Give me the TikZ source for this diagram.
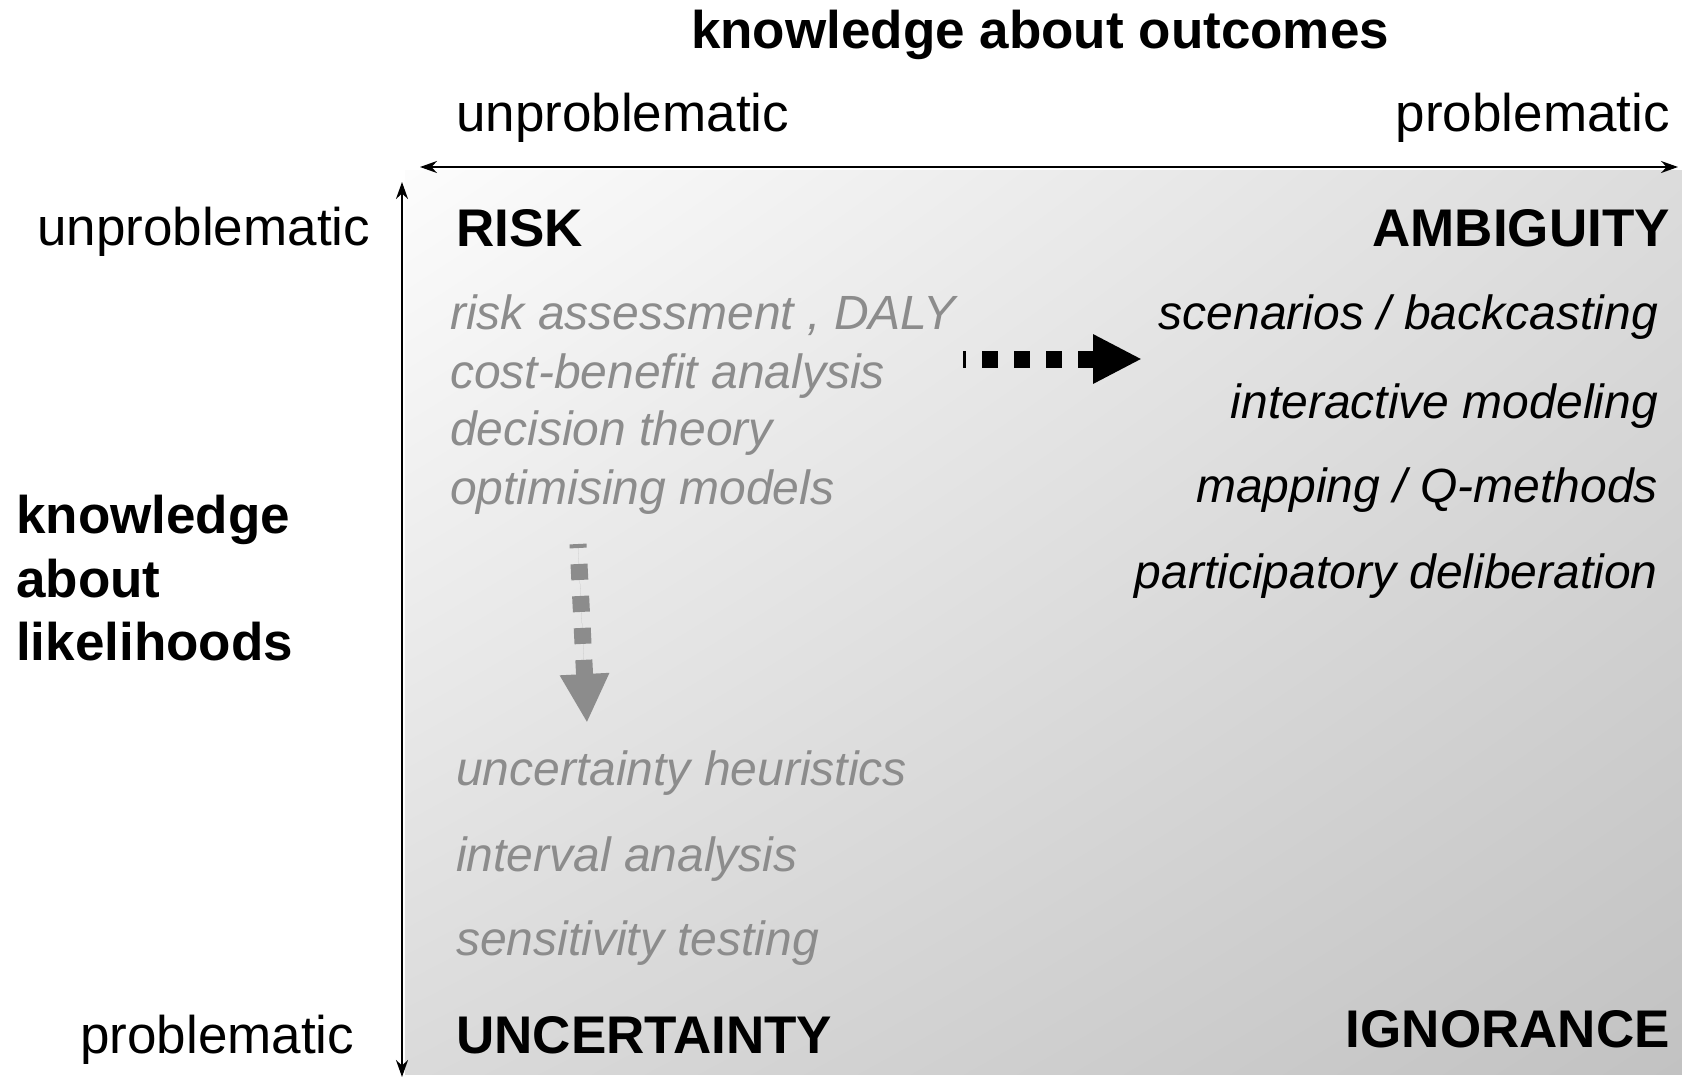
\documentclass[tikz,border=0pt]{standalone}
\usepackage{fontspec}
\setmainfont{Liberation Sans}
\usetikzlibrary{arrows.meta,shadings}
\definecolor{txtgray}{HTML}{8C8C8C}
\definecolor{bgUR}{HTML}{DCDCDC}
\definecolor{bgLL}{HTML}{DADADA}
\definecolor{bgLR}{HTML}{C2C2C2}
\definecolor{bgUL}{HTML}{FCFCFC}
\tikzset{
  big/.style={inner sep=0pt, font=\fontsize{53}{60}\selectfont},
  bigb/.style={inner sep=0pt, font=\fontsize{53}{60}\selectfont\bfseries},
  lst/.style={inner sep=0pt, font=\fontsize{48}{56}\selectfont\itshape},
  lstg/.style={lst, text=txtgray},
  axis/.style={line width=2pt, {Stealth[length=17pt,width=12pt]}-{Stealth[length=17pt,width=12pt]}},
  dotarrow/.style={line width=17pt, dash pattern=on 16pt off 16pt, -{Triangle[length=49pt,width=46pt]}},
}
\begin{document}
\begin{tikzpicture}[x=1pt,y=-1pt]
\useasboundingbox (0,0) rectangle (1682,1077);
\shade[upper left=bgUL, upper right=bgUR, lower left=bgLL, lower right=bgLR] (405,170) rectangle (1682,1074);

% axes
\coordinate (hL) at (420,167);
\coordinate (hR) at (1678,167);
\coordinate (vT) at (402,182);
\coordinate (vB) at (402,1077);
\draw[axis] (hL) -- (hR);
\draw[axis] (vT) -- (vB);

% top labels
\node[bigb, anchor=base] (title) at (1040,48) {knowledge about outcomes};
\node[big, anchor=base west] (tunp) at (456,131) {unproblematic};
\node[big, anchor=base east] (tprob) at (1670,131) {problematic};

% left labels
\node[big, anchor=base west] (lunp) at (37,245) {unproblematic};
\node[bigb, anchor=base west] (lk1) at (16,533) {knowledge};
\node[bigb, anchor=base west] (lk2) at (16,597) {about};
\node[bigb, anchor=base west] (lk3) at (16,660) {likelihoods};
\node[big, anchor=base west] (lprob) at (80,1053) {problematic};

% quadrant titles
\node[bigb, anchor=base west] (risk) at (456,246) {RISK};
\node[bigb, anchor=base east] (amb) at (1670,246) {AMBIGUITY};
\node[bigb, anchor=base west] (unc) at (456,1053) {UNCERTAINTY};
\node[bigb, anchor=base east] (ign) at (1670,1047) {IGNORANCE};

% risk list
\node[lstg, anchor=base west] (r1) at (450,329) {risk assessment , DALY};
\node[lstg, anchor=base west] (r2) at (450,388) {cost-benefit analysis};
\node[lstg, anchor=base west] (r3) at (450,445) {decision theory};
\node[lstg, anchor=base west] (r4) at (450,504) {optimising models};

% ambiguity list
\node[lst, anchor=base east] (a1) at (1658,329) {scenarios / backcasting};
\node[lst, anchor=base east] (a2) at (1658,418) {interactive modeling};
\node[lst, anchor=base east] (a3) at (1658,502) {mapping / Q-methods};
\node[lst, anchor=base east] (a4) at (1658,588) {participatory deliberation};

% uncertainty list
\node[lstg, anchor=base west] (u1) at (456,785) {uncertainty heuristics};
\node[lstg, anchor=base west] (u2) at (456,871) {interval analysis};
\node[lstg, anchor=base west] (u3) at (456,955) {sensitivity testing};

% dotted arrows
\coordinate (ds) at (963,359);
\coordinate (de) at (1142,359);
\draw[dotarrow, dash phase=13pt] (ds) -- (de);
\coordinate (gs) at (578,544);
\coordinate (ge) at (587,723);
\draw[dotarrow, draw=txtgray, fill=txtgray, dash phase=12pt] (gs) -- (ge);
\end{tikzpicture}
\end{document}
